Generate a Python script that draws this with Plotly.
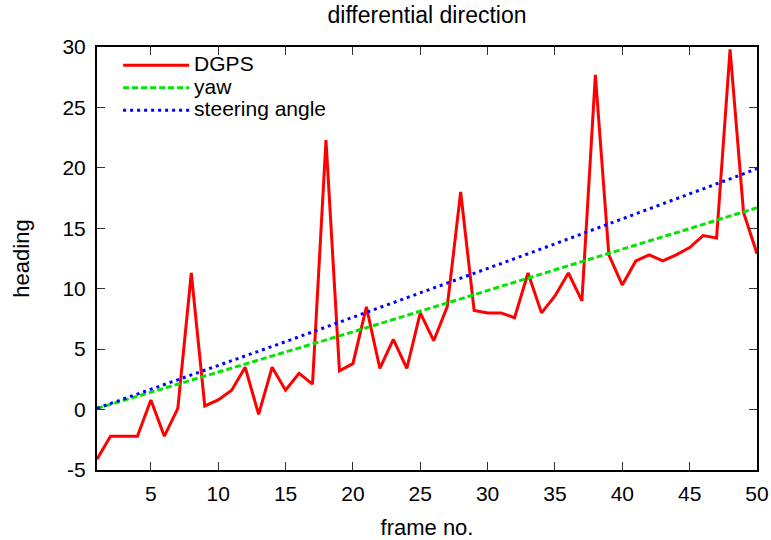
import plotly.graph_objects as go

frames = list(range(1, 51))

dgps = [-4.1, -2.2, -2.2, -2.2, 0.8, -2.2, 0.1, 11.3, 0.3, 0.8,
        1.6, 3.5, -0.4, 3.5, 1.6, 3.0, 2.1, 22.3, 3.2, 3.8,
        8.5, 3.4, 5.8, 3.4, 8.0, 5.7, 8.5, 18.0, 8.2, 8.0,
        8.0, 7.6, 11.3, 8.0, 9.4, 11.3, 9.0, 27.7, 12.8, 10.3,
        12.3, 12.8, 12.3, 12.8, 13.4, 14.4, 14.2, 29.8, 16.3, 12.9]

yaw = [0.10, 0.43, 0.76, 1.09, 1.42, 1.75, 2.09, 2.42, 2.75, 3.09,
       3.42, 3.75, 4.09, 4.42, 4.76, 5.09, 5.43, 5.76, 6.10, 6.43,
       6.77, 7.11, 7.45, 7.79, 8.12, 8.46, 8.80, 9.14, 9.48, 9.82,
       10.16, 10.50, 10.84, 11.19, 11.53, 11.87, 12.21, 12.56, 12.90, 13.25,
       13.59, 13.94, 14.28, 14.63, 14.97, 15.32, 15.67, 16.01, 16.36, 16.70]

steering = [0.10, 0.49, 0.88, 1.27, 1.66, 2.06, 2.45, 2.85, 3.24, 3.64,
            4.03, 4.43, 4.82, 5.22, 5.62, 6.02, 6.42, 6.82, 7.22, 7.62,
            8.02, 8.42, 8.83, 9.23, 9.63, 10.04, 10.44, 10.85, 11.26, 11.66,
            12.07, 12.48, 12.89, 13.30, 13.71, 14.12, 14.53, 14.94, 15.35, 15.77,
            16.18, 16.59, 17.01, 17.42, 17.84, 18.26, 18.67, 19.09, 19.51, 19.93]

x_ticks = [5, 10, 15, 20, 25, 30, 35, 40, 45, 50]
y_ticks = [-5, 0, 5, 10, 15, 20, 25, 30]
y_tick_text = ["-5", "0", "5", "10", "15", "20", "25", "30"]

FONT = "Liberation Sans, Arial, sans-serif"


def big(label):
    return '<span style="font-size:21px">' + label + '</span>'


fig = go.Figure()
fig.add_trace(go.Scatter(x=frames, y=dgps, mode="lines", name=big("DGPS"),
                         line=dict(color="#ff0000", width=3)))
fig.add_trace(go.Scatter(x=frames, y=yaw, mode="lines", name=big("yaw"),
                         line=dict(color="#00e600", width=3, dash="6px,3px")))
fig.add_trace(go.Scatter(x=frames, y=steering, mode="lines", name=big("steering angle"),
                         line=dict(color="#0000ff", width=3, dash="3px,4px")))

fig.update_layout(
    width=771, height=540,
    margin=dict(l=97, r=14, t=47, b=70, autoexpand=False),
    paper_bgcolor="white", plot_bgcolor="white",
    font=dict(family=FONT, size=21, color="black"),
    title=dict(text="differential direction", x=0.5, xref="paper",
               y=0.972, yref="container", xanchor="center", yanchor="middle",
               font=dict(size=23)),
    showlegend=True,
    legend=dict(x=0.032, y=0.995, xanchor="left", yanchor="top",
                bgcolor="rgba(0,0,0,0)", borderwidth=0,
                font=dict(size=15), itemwidth=66, tracegroupgap=0),
)

fig.update_xaxes(range=[1, 50], tickvals=x_ticks, ticks="inside", ticklen=8,
                 tickwidth=1.2, tickcolor="#333", mirror="ticks", showline=True,
                 linecolor="black", linewidth=2, showgrid=False, zeroline=False,
                 automargin=False, ticklabelstandoff=4,
                 title=dict(text="frame no.", standoff=18, font=dict(size=22)),
                 tickfont=dict(size=21))
fig.update_yaxes(range=[-5, 30], tickvals=y_ticks, ticktext=y_tick_text,
                 ticks="inside", ticklen=8,
                 tickwidth=1.2, tickcolor="#333", mirror="ticks", showline=True,
                 linecolor="black", linewidth=2, showgrid=False, zeroline=False,
                 automargin=False, ticklabelstandoff=5,
                 title=dict(text="heading", standoff=27, font=dict(size=22)),
                 tickfont=dict(size=21))

fig.write_html("out.html")
